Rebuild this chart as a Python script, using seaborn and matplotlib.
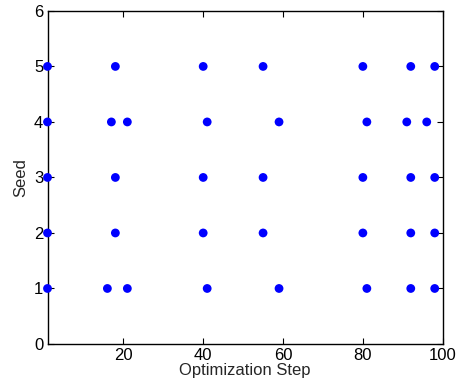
import matplotlib
matplotlib.use("Agg")
import matplotlib.pyplot as plt
import pandas as pd
import seaborn as sns

seed1 = [1, 16, 21, 41, 59, 81, 92, 98]
seed2 = [1, 18, 40, 55, 80, 92, 98]
seed3 = [1, 18, 40, 55, 80, 92, 98]
seed4 = [1, 17, 21, 41, 59, 81, 91, 96]
seed5 = [1, 18, 40, 55, 80, 92, 98]

steps = seed1 + seed2 + seed3 + seed4 + seed5
seeds = ([1] * len(seed1) + [2] * len(seed2) + [3] * len(seed3)
         + [4] * len(seed4) + [5] * len(seed5))
df = pd.DataFrame({"Optimization Step": steps, "Seed": seeds})

sns.set_style("ticks")
plt.rcParams["font.family"] = ["Liberation Sans", "DejaVu Sans"]

fig = plt.figure(figsize=(4.59, 3.9), dpi=100)
ax = fig.add_axes([0.1035, 0.118, 0.861, 0.854])
sns.scatterplot(data=df, x="Optimization Step", y="Seed", ax=ax,
                color="#0000ff", s=40, edgecolor="none", clip_on=False, zorder=5)
ax.set_xlim(1, 100)
ax.set_ylim(0, 6)
ax.set_xticks([20, 40, 60, 80, 100])
ax.set_yticks(range(7))
ax.tick_params(direction="in", top=True, right=True, length=4, width=0.8,
               labelsize=12, colors="black", pad=3)
for sp in ax.spines.values():
    sp.set_linewidth(1.0)
    sp.set_color("black")
ax.set_xlabel("Optimization Step", fontsize=12, labelpad=0)
ax.set_ylabel("Seed", fontsize=12, labelpad=4)
fig.savefig("out.png", dpi=100)
